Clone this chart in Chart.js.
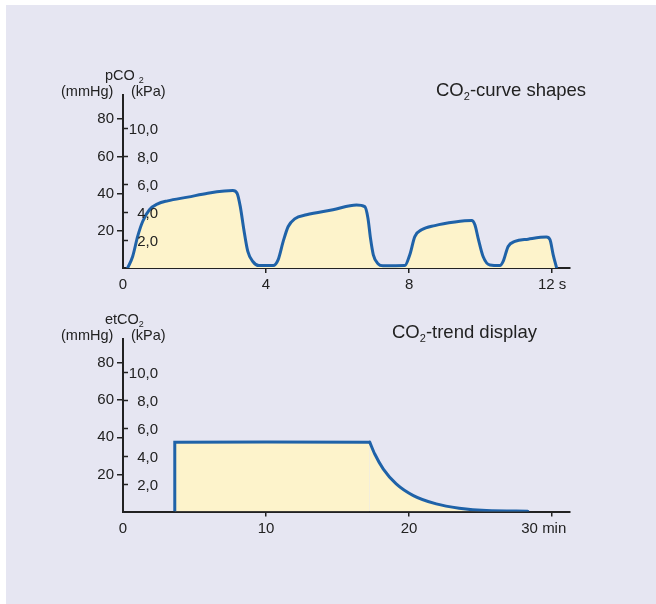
<!DOCTYPE html>
<html>
<head>
<meta charset="utf-8">
<script src="https://cdn.jsdelivr.net/npm/chart.js@4/dist/chart.umd.min.js"></script>
<style>
html,body{margin:0;padding:0;background:#fff;}
body{width:656px;height:604px;position:relative;overflow:hidden;font-family:"Liberation Sans",Arial,Helvetica,sans-serif;color:#222;}
#panel{position:absolute;left:6px;top:5px;width:650px;height:599px;background:#e6e6f2;}
canvas{position:absolute;left:0;}
.t{position:absolute;white-space:nowrap;line-height:1;}
.u{font-size:14.5px;}
.h{font-size:18.5px;}
.s1{font-size:9px;position:relative;top:3px;}
.s2{font-size:11px;position:relative;top:4px;}
</style>
</head>
<body>
<div id="panel"></div>
<canvas id="c1" width="656" height="300" style="top:0"></canvas>
<canvas id="c2" width="656" height="304" style="top:300px"></canvas>

<div class="t u" style="left:105px;top:68px">pCO <span class="s1">2</span></div>
<div class="t u" style="left:61px;top:84px">(mmHg)</div>
<div class="t u" style="left:131px;top:84px">(kPa)</div>
<div class="t h" style="left:436px;top:81px">CO<span class="s2">2</span>-curve shapes</div>

<div class="t u" style="left:105px;top:312px">etCO<span class="s1">2</span></div>
<div class="t u" style="left:61px;top:328px">(mmHg)</div>
<div class="t u" style="left:131px;top:328px">(kPa)</div>
<div class="t h" style="left:392px;top:323px">CO<span class="s2">2</span>-trend display</div>

<script>
// ---------- data ----------
// Top: capnogram, time (s) vs pCO2 (mmHg)
const curveTime = [0.13,0.27,0.41,0.55,0.74,0.97,1.25,1.81,2.37,2.84,3.07,3.19,3.28,3.38,3.49,3.63,3.80,4.20,4.34,4.48,4.62,4.80,5.13,5.87,6.53,6.76,6.85,6.92,7.00,7.13,7.27,7.88,8.02,8.16,8.35,8.72,9.28,9.75,9.84,9.93,10.07,10.26,10.54,10.63,10.77,10.96,11.33,11.84,11.94,12.03,12.12];
const curvePco2 = [0,6.2,17,25,31.3,34.5,36.1,38.1,40.2,41.4,41.6,40.2,33,20.5,8.9,3.5,1.3,1.3,4.5,14.3,22.3,26.4,28.6,31.3,33.9,33,26.8,16.1,7.1,2.3,1.2,1.3,7.1,16.9,20.5,22.8,24.7,25.5,23.2,16.1,6.2,1.6,1.3,3.5,11.6,14.3,15.5,16.6,15.2,7.1,0.5];
const curveXTicks = [0,4,8,12];
const curveXLabels = ['0','4','8','12 s'];

// Bottom: trend, time (min) vs etCO2 (mmHg)
const trendPlateauTime = [3.62,3.62,10,17.25];
const trendPlateauCo2  = [0,37.4,37.5,37.4];
const trendDecayTime = [17.25,17.6,18.2,19.1,20.3,21.9,23.5,25.4,28.3];
const trendDecayCo2  = [37.4,31,22.9,14.9,8.6,4.1,1.8,0.5,0.2];
const trendXTicks = [0,10,20,30];
const trendXLabels = ['0','10','20','30 min    '];

// Shared y ticks
const mmHgTicks = [20,40,60,80];
const kPaTicks = [2,4,6,8,10];
const kPaLabels = ['2,0','4,0','6,0','8,0','10,0'];
const MMHG_PER_KPA = 7.5;

// ---------- styling ----------
const FONT = '"Liberation Sans", Arial, Helvetica, sans-serif';
const INK = '#222';
const LINE = '#1f62a8';
const FILL = '#fdf3cb';
Chart.defaults.font.family = FONT;

const kpaPlugin = {
  id: 'kpa',
  afterDraw(chart) {
    const ys = chart.scales.y, xs = chart.scales.x;
    const x0 = xs.getPixelForValue(0);
    const ctx = chart.ctx;
    ctx.save();
    ctx.strokeStyle = INK; ctx.lineWidth = 1.5; ctx.fillStyle = INK;
    ctx.font = '15px ' + FONT;
    ctx.textAlign = 'right'; ctx.textBaseline = 'middle';
    kPaTicks.forEach((k, i) => {
      const y = Math.round(ys.getPixelForValue(k * MMHG_PER_KPA)) + 0.5;
      ctx.beginPath(); ctx.moveTo(x0, y); ctx.lineTo(x0 + 5, y); ctx.stroke();
      ctx.fillText(kPaLabels[i], x0 + 35, y + 1);
    });
    ctx.restore();
  }
};

function makeScales(xMax, xTicks, xLabels) {
  return {
    x: {
      type: 'linear', min: 0, max: xMax,
      afterBuildTicks: s => { s.ticks = xTicks.map(v => ({value: v})); },
      afterFit: s => { s.height = 25; s.paddingLeft = 0; s.paddingRight = 0; },
      ticks: {
        callback: v => xLabels[xTicks.indexOf(v)],
        color: INK, font: {size: 15}, padding: 3, maxRotation: 0, autoSkip: false
      },
      grid: {
        drawOnChartArea: false, tickLength: 5, lineWidth: 1.5,
        color: c => (c.tick && c.tick.value === 0) ? 'rgba(0,0,0,0)' : INK
      },
      border: {color: INK, width: 2}
    },
    y: {
      type: 'linear', min: 0, max: 93,
      afterBuildTicks: s => { s.ticks = mmHgTicks.map(v => ({value: v})); },
      afterFit: s => { s.width = 123; s.paddingTop = 0; s.paddingBottom = 0; },
      ticks: { color: INK, font: {size: 15}, padding: 3 },
      grid: { drawOnChartArea: false, tickLength: 6, lineWidth: 1.5, color: INK },
      border: {color: INK, width: 2}
    }
  };
}

const common = {
  responsive: false,
  animation: false,
  plugins: {legend: {display: false}, tooltip: {enabled: false}},
  elements: {point: {radius: 0}}
};

new Chart(document.getElementById('c1'), {
  type: 'line',
  data: {
    datasets: [{
      data: curveTime.map((t, i) => ({x: t, y: curvePco2[i]})),
      borderColor: LINE, backgroundColor: FILL, borderWidth: 3,
      fill: 'origin', cubicInterpolationMode: 'monotone',
      borderJoinStyle: 'round', borderCapStyle: 'round'
    }]
  },
  options: Object.assign({}, common, {
    layout: {padding: {left: 0, top: 95, right: 86, bottom: 7}},
    scales: makeScales(12.5, curveXTicks, curveXLabels)
  }),
  plugins: [kpaPlugin]
});

new Chart(document.getElementById('c2'), {
  type: 'line',
  data: {
    datasets: [{
      data: trendDecayTime.map((t, i) => ({x: t, y: trendDecayCo2[i]})),
      borderColor: LINE, backgroundColor: FILL, borderWidth: 3,
      fill: 'origin', cubicInterpolationMode: 'monotone',
      borderJoinStyle: 'round', borderCapStyle: 'round'
    }, {
      data: trendPlateauTime.map((t, i) => ({x: t, y: trendPlateauCo2[i]})),
      borderColor: LINE, backgroundColor: FILL, borderWidth: 3,
      fill: 'origin', tension: 0,
      borderJoinStyle: 'miter', borderCapStyle: 'butt'
    }]
  },
  options: Object.assign({}, common, {
    layout: {padding: {left: 0, top: 39, right: 86, bottom: 67.5}},
    scales: makeScales(31.25, trendXTicks, trendXLabels)
  }),
  plugins: [kpaPlugin]
});
</script>
</body>
</html>
